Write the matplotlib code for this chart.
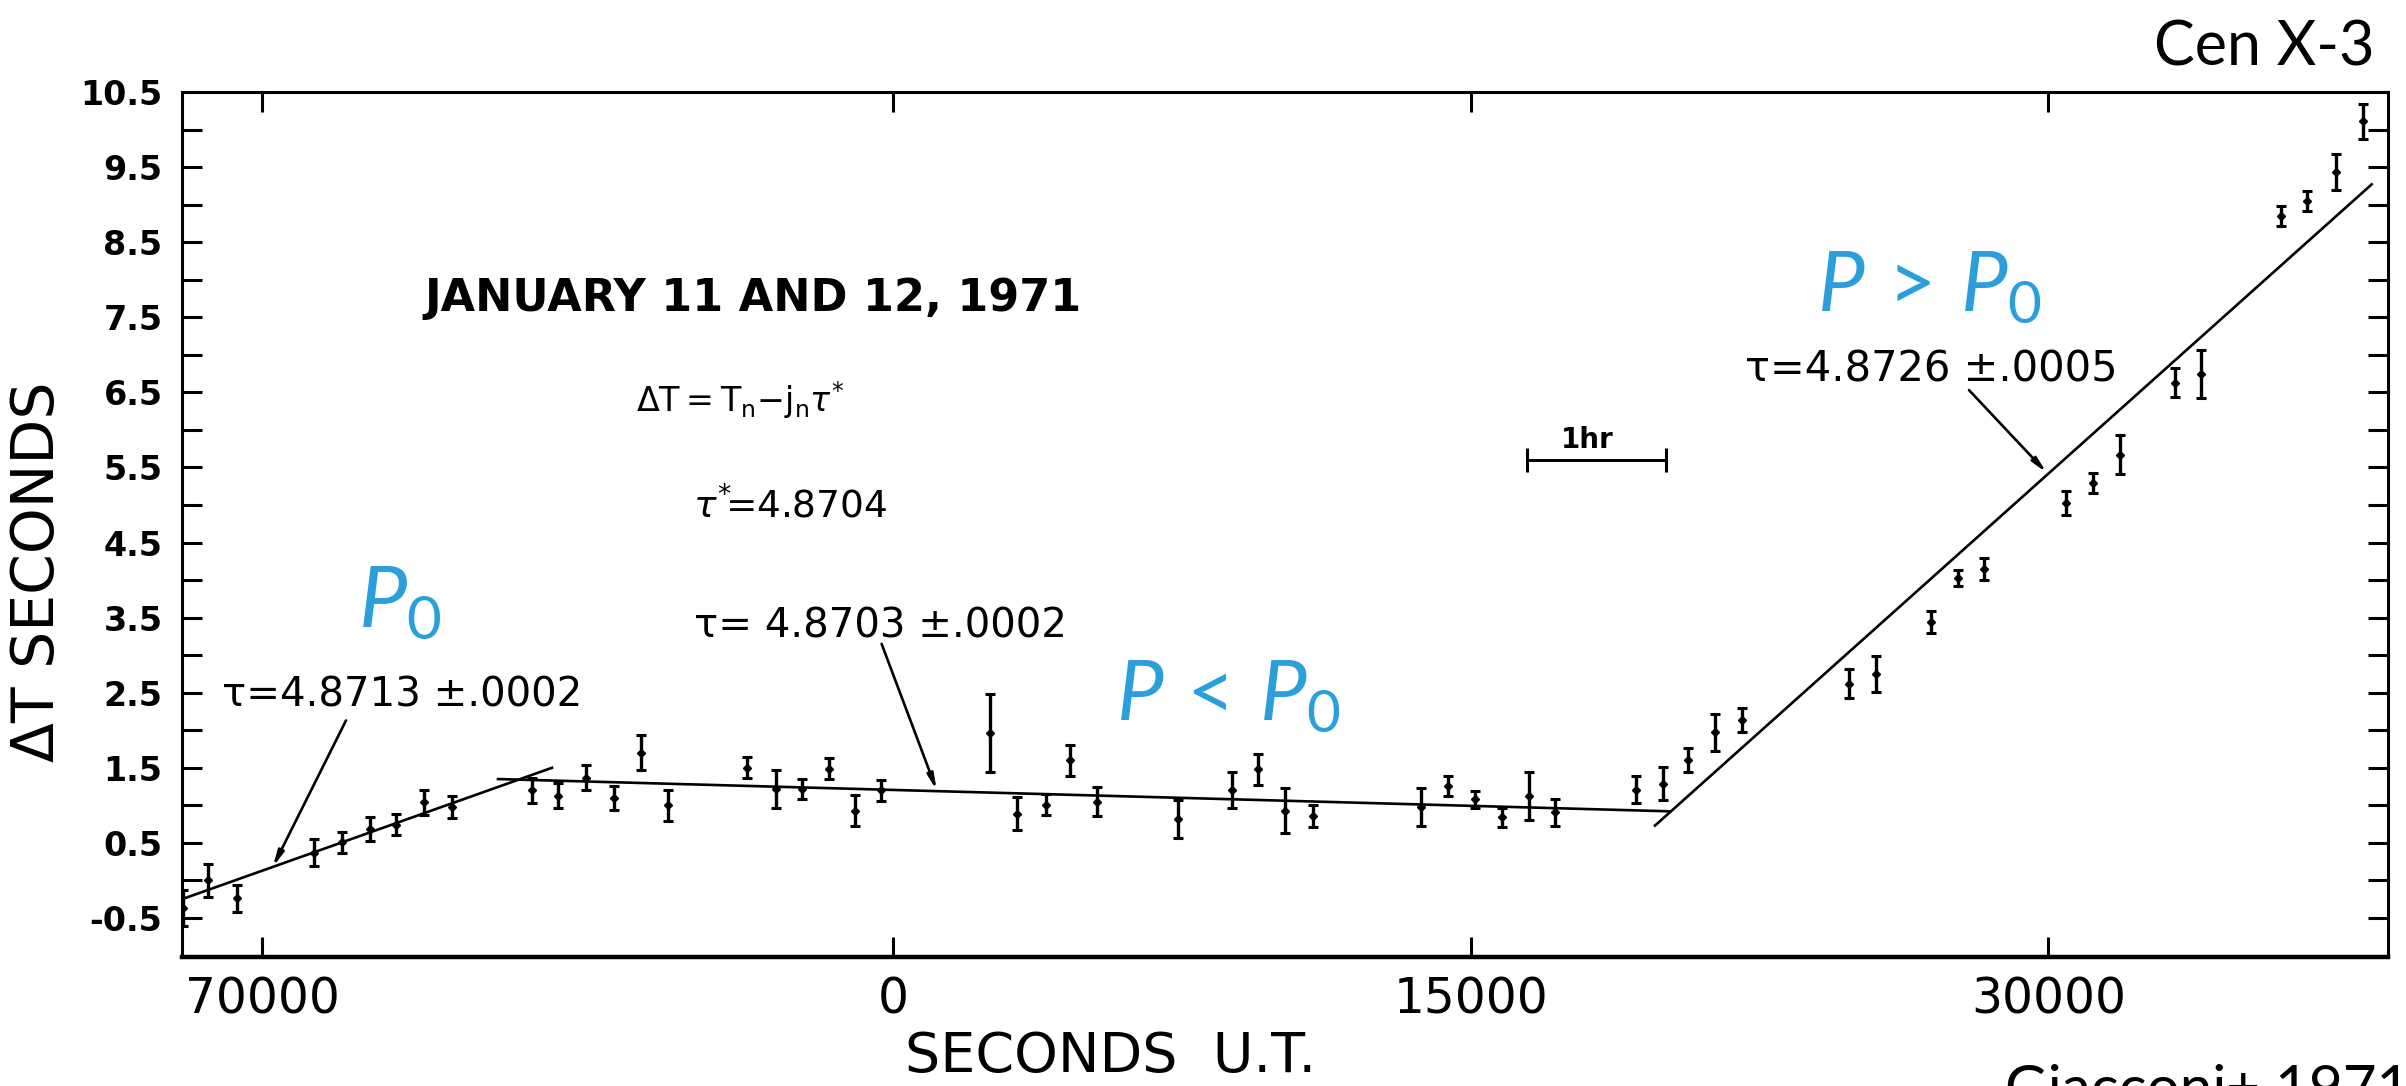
import matplotlib.pyplot as plt

# pulse timing residuals, Cen X-3, Jan 11-12 1971
# x in seconds U.T.; values below 60000 are on Jan 12 (after midnight)
obs_ut = [67960, 68600, 69350, 71350, 72080, 72800, 73470, 74210, 74940,
          77010, 77700, 78420, 79140, 79840, 80550, 82600, 83350, 84030,
          84720, 85390, 86090, 2500, 3210, 3970, 4600, 5300, 7380, 8800,
          9470, 10160, 10890, 13700, 14410, 15110, 15800, 16500, 17180,
          19290, 19980, 20650, 21340, 22030, 24820, 25530, 26950, 27650,
          28330, 30450, 31160, 31870, 33290, 33960, 36050, 36730, 37470,
          38180]
obs_dt = [-0.37, 0.00, -0.24, 0.37, 0.51, 0.69, 0.74, 1.04, 0.98,
          1.20, 1.13, 1.37, 1.10, 1.70, 1.00, 1.50, 1.22, 1.22,
          1.49, 0.93, 1.20, 1.96, 0.89, 1.01, 1.60, 1.05, 0.82, 1.20,
          1.48, 0.93, 0.86, 0.98, 1.26, 1.08, 0.84, 1.13, 0.91,
          1.21, 1.29, 1.60, 1.97, 2.14, 2.62, 2.75, 3.44, 4.03,
          4.15, 5.03, 5.29, 5.67, 6.63, 6.74, 8.85, 9.05, 9.43,
          10.11]
obs_err = [0.24, 0.22, 0.18, 0.18, 0.14, 0.16, 0.14, 0.17, 0.15,
           0.17, 0.17, 0.17, 0.16, 0.23, 0.21, 0.14, 0.25, 0.13,
           0.14, 0.21, 0.14, 0.52, 0.22, 0.14, 0.21, 0.19, 0.25, 0.24,
           0.21, 0.30, 0.15, 0.25, 0.13, 0.11, 0.13, 0.32, 0.18,
           0.18, 0.22, 0.16, 0.24, 0.16, 0.19, 0.24, 0.15, 0.11,
           0.15, 0.16, 0.13, 0.26, 0.19, 0.32, 0.13, 0.13, 0.24,
           0.23]

# fitted straight lines (start/end)
fit_p0_ut = [67922, 77532]
fit_p0_dt = [-0.25, 1.50]
fit_lo_ut = [76130, 20171]
fit_lo_dt = [1.35, 0.92]
fit_hi_ut = [19782, 38397]
fit_hi_dt = [0.73, 9.27]

tick_ut = [70000, 0, 15000, 30000]
ytick_vals = [-0.5, 0.5, 1.5, 2.5, 3.5, 4.5, 5.5, 6.5, 7.5, 8.5, 9.5, 10.5]

DAY = 86400


def cont(ut):
    # continuous time axis across midnight
    return ut + DAY if ut < 60000 else ut


blue = '#2B9FDC'
plt.rcParams['mathtext.fontset'] = 'custom'
plt.rcParams['mathtext.it'] = 'Lato:italic'
plt.rcParams['mathtext.rm'] = 'Lato'

fig = plt.figure(figsize=(24.06, 10.86), dpi=100)
ax = fig.add_axes([182 / 2406, 1 - 957 / 1086, 2206 / 2406, 865 / 1086])

t = [cont(u) for u in obs_ut]
ax.errorbar(t, obs_dt, yerr=obs_err, fmt='D', color='k', ms=4.5,
            elinewidth=2.4, capsize=3.5, capthick=2.2)

for us, vs in [(fit_p0_ut, fit_p0_dt), (fit_lo_ut, fit_lo_dt), (fit_hi_ut, fit_hi_dt)]:
    ax.plot([cont(u) for u in us], vs, color='k', lw=1.9)

ax.set_xlim(67922, 125221)
ax.set_ylim(-1.02, 10.5)

ax.set_xticks([cont(u) for u in tick_ut])
ax.set_xticklabels([str(u) for u in tick_ut], fontsize=35)
ax.set_yticks(ytick_vals)
ax.set_yticklabels([f'{v:.1f}' for v in ytick_vals], fontsize=24, fontweight='bold')
ax.set_yticks([v + 0.5 for v in ytick_vals[:-1]], minor=True)
ax.tick_params(axis='both', which='both', direction='in', top=True, right=True,
               length=14.5, width=2.2)
ax.tick_params(axis='y', pad=14)
ax.tick_params(axis='x', pad=13)
for side in ['left', 'right', 'top']:
    ax.spines[side].set_linewidth(2.2)
ax.spines['bottom'].set_linewidth(3.2)

# arrows pointing at the fits
arrow = dict(arrowstyle='-|>,head_length=0.9,head_width=0.18', color='k', lw=1.9,
             shrinkA=0, shrinkB=0)
ax.annotate('', xy=(cont(70281), 0.18), xytext=(cont(72182), 2.13), arrowprops=arrow)
ax.annotate('', xy=(cont(1125), 1.20), xytext=(cont(86094), 3.15), arrowprops=arrow)
ax.annotate('', xy=(cont(29956), 5.43), xytext=(cont(27938), 6.53), arrowprops=arrow)

# 1 hr scale bar
ax.errorbar([cont(16457), cont(20057)], [5.60, 5.60], yerr=0.16, color='k',
            lw=2, capsize=0, elinewidth=2.2)
ax.plot([cont(16457), cont(20057)], [5.60, 5.60], color='k', lw=2)
ax.text(cont(18010), 5.76, '1hr', ha='center', va='baseline', fontsize=20,
        fontweight='bold')

ax.text(cont(82753), 7.58, 'JANUARY 11 AND 12, 1971', ha='center', va='baseline',
        fontsize=32, fontweight='bold')
ax.text(cont(82416), 6.24,
        r'$\Delta\mathrm{T{=}T}_\mathrm{n}{-}\mathrm{j}_\mathrm{n}\tau^{*}$',
        ha='center', va='baseline', fontsize=24, math_fontfamily='dejavusans')
ax.text(cont(83714), 4.83, r'$\tau^{*}\!$=4.8704', ha='center', va='baseline',
        fontsize=27, math_fontfamily='dejavusans')
ax.text(cont(81221), 3.23, 'τ= 4.8703 ±.0002', ha='left', va='baseline', fontsize=29)
ax.text(cont(68961), 2.31, 'τ=4.8713 ±.0002', ha='left', va='baseline', fontsize=29)
ax.text(cont(22119), 6.64, 'τ=4.8726 ±.0005', ha='left', va='baseline', fontsize=30)

ax.text(cont(72494), 3.38, r'$P_{\mathrm{0}}$', color=blue, fontsize=62,
        ha='left', va='baseline')
ax.text(cont(5782), 2.14, r'$P\,<\,P_{\mathrm{0}}$', color=blue, fontsize=60,
        ha='left', va='baseline')
ax.text(cont(23990), 7.59, r'$P\,>\,P_{\mathrm{0}}$', color=blue, fontsize=60,
        ha='left', va='baseline')

fig.text(38 / 2406, 1 - 572 / 1086, 'ΔT SECONDS', rotation=90, ha='center',
         va='center', fontsize=42)
fig.text(1111 / 2406, 2 / 1086, 'SECONDS  U.T.', ha='center', va='bottom',
         fontsize=40)
fig.text(2375 / 2406, 1 - 66 / 1086, 'Cen X-3', ha='right', va='baseline',
         fontsize=44, family='Lato')
fig.text(2005 / 2406, 1 - 1107 / 1086, 'Giacconi+ 1971', ha='left', va='baseline',
         fontsize=42, family='Lato')

fig.savefig('out.png', dpi=100)
